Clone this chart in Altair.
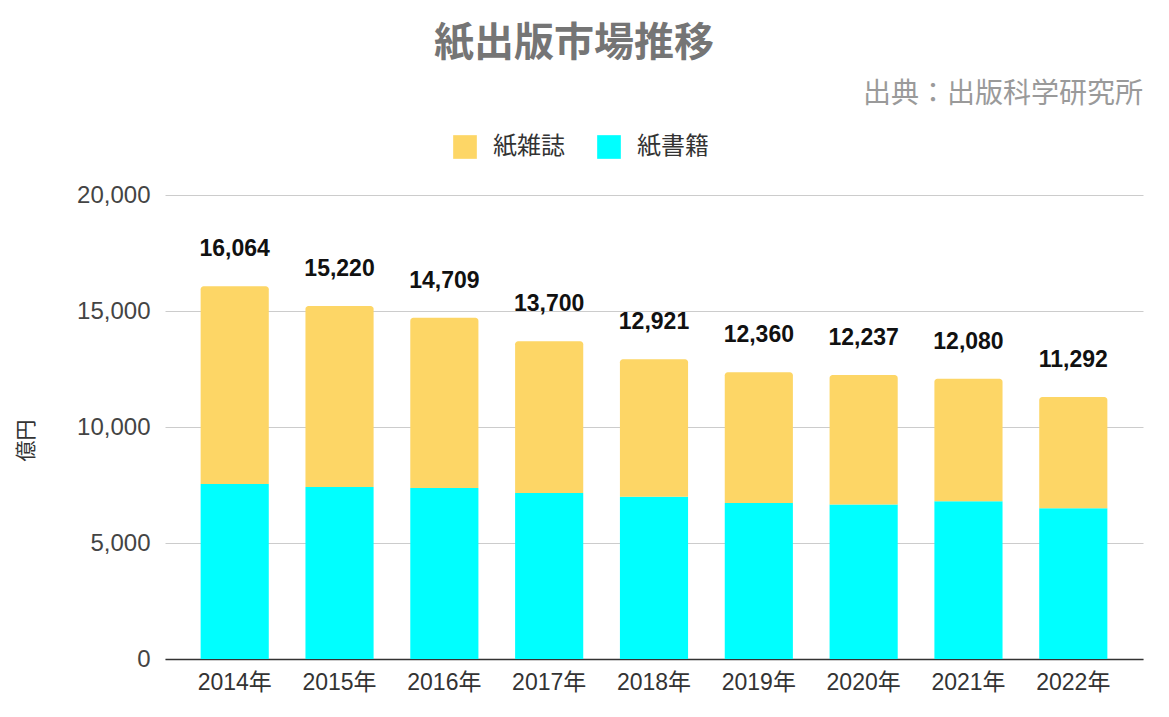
import altair as alt
import pandas as pd

years = ["2014年", "2015年", "2016年", "2017年", "2018年", "2019年", "2020年", "2021年", "2022年"]
books = [7544, 7419, 7370, 7152, 6991, 6723, 6661, 6804, 6497]
magazines = [8520, 7801, 7339, 6548, 5930, 5637, 5576, 5276, 4795]
series = ["紙雑誌", "紙書籍"]
colors = ["#FDD666", "#00FFFF"]
yticks = [0, 5000, 10000, 15000, 20000]

FONT = "'Liberation Sans', Arial, 'Noto Sans CJK JP', sans-serif"

df = pd.DataFrame({"year": years, "book": books, "mag": magazines})
df["total"] = df["book"] + df["mag"]
df["s_book"] = "紙書籍"
df["s_mag"] = "紙雑誌"

W, H = 978, 464

xenc = alt.X("year:N", sort=years, title=None,
             scale=alt.Scale(paddingInner=0.35, paddingOuter=0.34),
             axis=alt.Axis(labelAngle=0, labelFontSize=23, labelColor="#333333",
                           labelPadding=12, ticks=False, domainColor="#333333",
                           domainWidth=1.5, labelFont=FONT))
yscale = alt.Scale(domain=[0, 20000])
color_scale = alt.Scale(domain=series, range=colors)

base = alt.Chart(df)

book_bar = base.mark_bar().encode(
    x=xenc,
    y=alt.Y("book:Q", scale=yscale, title="億円",
            axis=alt.Axis(values=yticks,
                          labelExpr="format(datum.value, ',')",
                          labelFontSize=24, labelColor="#444444", labelPadding=15,
                          ticks=False, domain=False, gridColor="#cccccc",
                          titleFontSize=21, titleFontWeight="normal",
                          titleColor="#333333", titlePadding=40, titleY=245,
                          labelFont=FONT, titleFont=FONT)),
    color=alt.Color("s_book:N", scale=color_scale, title=None,
                    legend=alt.Legend(orient="none", legendX=288, legendY=-60,
                                      direction="horizontal", symbolType="square",
                                      symbolSize=560, symbolStrokeWidth=0,
                                      labelFontSize=24, labelColor="#333333",
                                      labelFont=FONT, columnPadding=32,
                                      labelOffset=16)),
)

mag_bar = base.mark_bar(cornerRadiusTopLeft=3, cornerRadiusTopRight=3).encode(
    x=alt.X("year:N", sort=years),
    y=alt.Y("book:Q", scale=yscale),
    y2="total:Q",
    color=alt.Color("s_mag:N", scale=color_scale),
)

labels = base.mark_text(fontSize=23, fontWeight="bold", color="#111111",
                        baseline="bottom", dy=-25, font=FONT).encode(
    x=alt.X("year:N", sort=years),
    y=alt.Y("total:Q", scale=yscale),
    text=alt.Text("total:Q", format=","),
)

source = alt.Chart(pd.DataFrame({"t": ["出典：出版科学研究所"]})).mark_text(
    fontSize=28, color="#9a9a9a", align="right", baseline="middle", font=FONT
).encode(x=alt.value(W), y=alt.value(-100), text="t:N")

chart = alt.layer(book_bar, mag_bar, labels, source).properties(
    width=W, height=H,
    autosize=alt.AutoSizeParams(type="none"),
    padding={"left": 157, "top": 187, "right": 16, "bottom": 50},
    title=alt.TitleParams("紙出版市場推移", fontSize=40, fontWeight="bold",
                          color="#757575", anchor="middle", dx=-80,
                          offset=17, font=FONT),
).configure_view(stroke=None)

chart.save("out.html", embed_options={"renderer": "svg", "actions": False})
